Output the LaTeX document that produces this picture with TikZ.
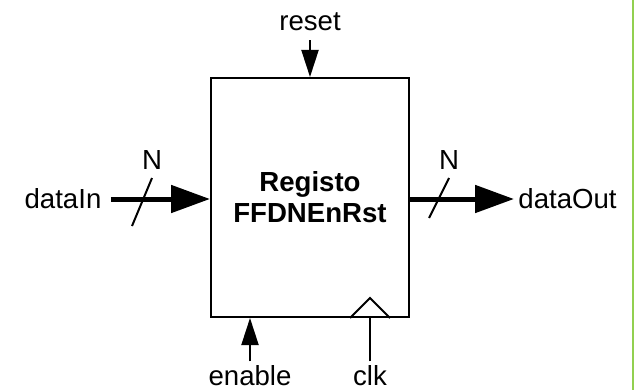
\documentclass[tikz,border=0pt]{standalone}
\usepackage{fontspec}
\setmainfont{Liberation Sans}
\usepackage{tikz}
\usetikzlibrary{
    positioning,           % Relative positioning
    arrows.meta,           % Modern arrow tips
    calc                   % Coordinate calculations
}
\definecolor{EdgeGreen}{RGB}{146,208,80}
\tikzset{register box/.style={
    rectangle,
    draw,
    line width=1pt,
    minimum width=99pt,
    minimum height=119.5pt,
    align=center,
    font=\fontsize{13.8}{15.5}\selectfont\bfseries
}}
\tikzset{port label/.style={
    inner sep=2pt,
    font=\fontsize{13.8}{16}\selectfont
}}
\tikzset{bus arrow/.style={
    line width=2.5pt,
    -{Triangle[length=19.5pt,width=13.5pt]}
}}
\tikzset{signal arrow/.style={
    line width=1pt,
    -{Triangle[length=13.5pt,width=8.5pt]}
}}
\tikzset{bus slash/.style={
    line width=1pt
}}
\tikzset{clock edge/.style={
    line width=1pt,
    line join=miter
}}

\begin{document}
\begin{tikzpicture}[x=0.5pt,y=-0.5pt]
    \useasboundingbox (0,0) rectangle (635,390);

    % the register
    \node[register box] (reg) at (310,197.5) {Registo\\FFDNEnRst};

    % port labels
    \node[port label, inner xsep=4.5pt] (datain) at (63,199) {dataIn};
    \node[port label, anchor=west] (dataout) at (514,199) {dataOut};
    \node[port label, inner ysep=4.5pt] (reset) at (310,22) {reset};
    \node[port label] (enable) at (250,376) {enable};
    \node[port label] (clk) at (370,376) {clk};

    % buses
    \draw[bus arrow] (datain.east) -- (datain.east -| reg.west);
    \draw[bus arrow] (dataout.west -| reg.east) -- (dataout.west);
    \draw[bus slash] (132,226) -- (152,178) node[port label, above=2pt] {N};
    \draw[bus slash] (429,218) -- (449,178) node[port label, above=2pt] {N};

    % control inputs
    \draw[signal arrow] (reset.south) -- (reg.north);
    \draw[signal arrow] (enable.north) -- (enable.north |- reg.south);
    \draw[line width=1pt] (clk.north) -- (clk.north |- reg.south);
    \draw[clock edge] ($(clk.north |- reg.south)+(-20,0)$) -- ++(20,-20) -- ++(20,20);

    % green margin line
    \draw[EdgeGreen, line width=1pt] (632.5,0) -- (632.5,390);
\end{tikzpicture}
\end{document}
